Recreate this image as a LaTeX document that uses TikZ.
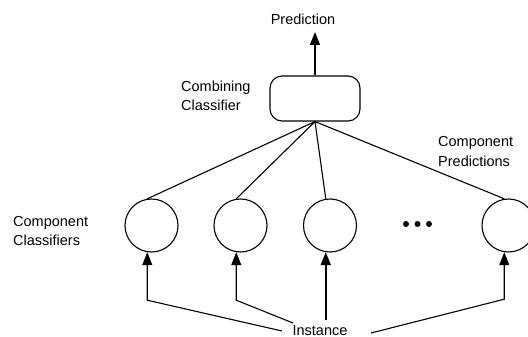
\documentclass[tikz,border=0pt]{standalone}
\usepackage{fontspec}
\setmainfont{Liberation Sans}
\usetikzlibrary{arrows.meta}
\begin{document}
\begin{tikzpicture}[x=1pt,y=-1pt,
  lbl/.style={font=\fontsize{14.5}{19.5}\selectfont, inner sep=0pt, align=left},
  comp/.style={circle, draw, line width=1.1pt, minimum size=53pt, inner sep=0pt},
  conn/.style={line width=1.1pt},
  arr/.style={line width=1.1pt, -{Triangle[length=13pt,width=10pt]}},
]
\useasboundingbox (0,0) rectangle (528,337);
% combining classifier
\node[draw, rounded corners=12pt, minimum width=90pt, minimum height=45pt, line width=1.1pt, inner sep=0pt] (comb) at (315,98.5) {};
\node[lbl, anchor=base] (pred) at (303,25) {Prediction};
\coordinate (ptip) at (315,32);
\draw[arr] (comb.north) -- (ptip);
\node[lbl, anchor=north west] (comblbl) at (181,80.4) {Combining\\Classifier};
% component classifiers
\node[comp] (c1) at (151.5,225.5) {};
\node[comp] (c2) at (240.5,225.5) {};
\node[comp] (c3) at (330,225.5) {};
\node[comp] (c5) at (508.5,225.5) {};
\fill (406,224) circle (3pt) (417.5,224) circle (3pt) (429,224) circle (3pt);
\node[lbl, anchor=north west] (cclbl) at (13,216) {Component\\Classifiers};
\node[lbl, anchor=north west] (cplbl) at (438,136.4) {Component\\Predictions};
% lines from combining classifier
\draw[conn] (comb.south) -- (c1.99);
\draw[conn] (comb.south) -- (c2.99);
\draw[conn] (comb.south) -- (c3.99);
\draw[conn] (comb.south) -- (c5.99);
% instance
\node[lbl, anchor=base] (inst) at (320,335.3) {Instance};
\coordinate (e1) at (282,331);
\coordinate (e2) at (293,323);
\coordinate (e5) at (371,333);
\draw[arr] (e1) -- ([yshift=-48pt]c1.261) -- (c1.261);
\draw[arr] (e2) -- ([yshift=-48pt]c2.261) -- (c2.261);
\draw[arr, line width=2pt] ([yshift=-68pt]c3.261) -- (c3.261);
\draw[arr] (e5) -- ([yshift=-47pt]c5.261) -- (c5.261);
\end{tikzpicture}
\end{document}
